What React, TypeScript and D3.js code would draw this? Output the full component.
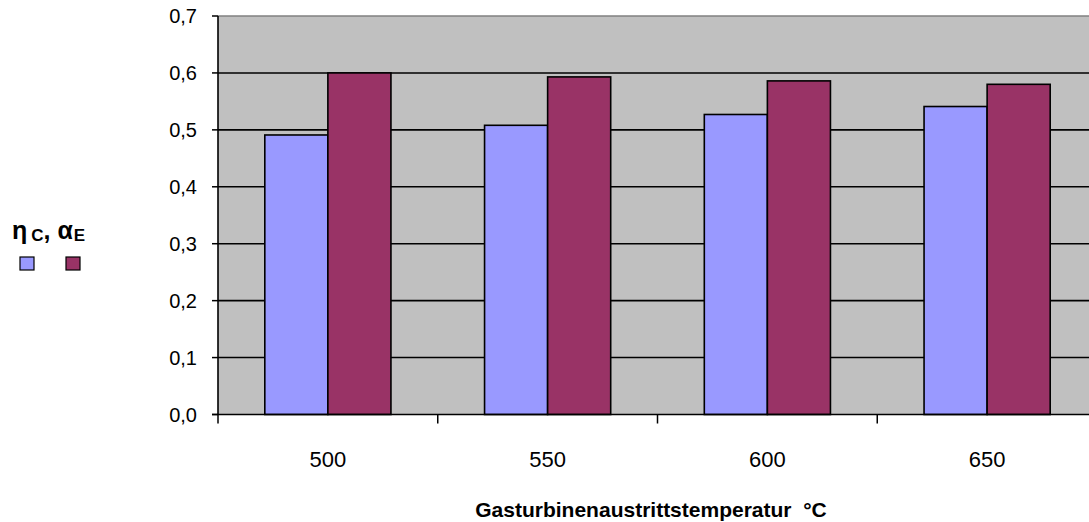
import React from 'react';
import * as d3 from 'd3';

const categories = ['500', '550', '600', '650'];
const etaC = [0.491, 0.508, 0.527, 0.541];
const alphaE = [0.6, 0.593, 0.586, 0.58];
const yTicks = [0, 0.1, 0.2, 0.3, 0.4, 0.5, 0.6, 0.7];

const W = 1089;
const H = 522;
const margin = { top: 16, left: 218, bottom: 414.5 };
const plotRight = 1097;

const App = () => {
  const x = d3.scaleBand<string>()
    .domain(categories)
    .range([margin.left, plotRight])
    .paddingInner(0)
    .paddingOuter(0);

  const y = d3.scaleLinear().domain([0, 0.7]).range([margin.bottom, margin.top]);

  const bw = x.bandwidth();
  const barW = bw * 0.287;
  const groupOff = (bw - 2 * barW) / 2;
  const fmt = (v: number) => v.toFixed(1).replace('.', ',');

  return (
    <svg width={W} height={H} style={{ position: 'absolute', left: 0, top: 0 }}
      fontFamily="Arial, 'Liberation Sans', sans-serif">
      <rect x={margin.left} y={margin.top} width={plotRight - margin.left}
        height={margin.bottom - margin.top} fill="#c0c0c0" />
      {/* gridlines */}
      {yTicks.slice(1).map(t => (
        <line key={t} x1={margin.left} x2={plotRight} y1={y(t)} y2={y(t)}
          stroke={t === 0.7 ? '#808080' : '#000'} strokeWidth={1.6} />
      ))}
      {/* bars */}
      {categories.map((c, i) => (
        <g key={c}>
          <rect x={x(c)! + groupOff} y={y(etaC[i])} width={barW}
            height={y(0) - y(etaC[i])} fill="#9999ff" stroke="#000" strokeWidth={1.6} />
          <rect x={x(c)! + groupOff + barW} y={y(alphaE[i])} width={barW}
            height={y(0) - y(alphaE[i])} fill="#993366" stroke="#000" strokeWidth={1.6} />
        </g>
      ))}
      {/* y axis */}
      <line x1={margin.left} x2={margin.left} y1={margin.top} y2={margin.bottom}
        stroke="#000" strokeWidth={1.6} />
      {yTicks.map(t => (
        <g key={t}>
          <line x1={margin.left - 6} x2={margin.left} y1={y(t)} y2={y(t)} stroke="#000" strokeWidth={1.5} />
          <text x={margin.left - 21} y={y(t)} dy="0.36em" textAnchor="end" fontSize={20}>{fmt(t)}</text>
        </g>
      ))}
      {/* x axis */}
      <line x1={margin.left - 6} x2={plotRight} y1={margin.bottom} y2={margin.bottom}
        stroke="#000" strokeWidth={1.6} />
      {categories.map(c => (
        <g key={c}>
          <line x1={x(c)!} x2={x(c)!} y1={margin.bottom} y2={margin.bottom + 9} stroke="#000" strokeWidth={1.5} />
          <text x={x(c)! + bw / 2} y={467} textAnchor="middle" fontSize={22}>{c}</text>
        </g>
      ))}
      <line x1={plotRight} x2={plotRight} y1={margin.bottom} y2={margin.bottom + 9} stroke="#000" strokeWidth={1.5} />
      <text x={651} y={517} textAnchor="middle" fontSize={21} fontWeight="bold" style={{ whiteSpace: 'pre' }}>
        {'Gasturbinenaustrittstemperatur  °C'}
      </text>
      {/* legend */}
      <text x={12} y={239} fontSize={25} fontWeight="bold">
        η<tspan fontSize={17} dy={2} dx={4}>C</tspan><tspan dy={-2}>, α</tspan><tspan fontSize={17} dy={2} dx={1}>E</tspan>
      </text>
      <rect x={20} y={257} width={14} height={13} fill="#9999ff" stroke="#000" strokeWidth={1.2} />
      <rect x={66} y={257} width={14} height={13} fill="#993366" stroke="#000" strokeWidth={1.2} />
    </svg>
  );
};

export default App;
